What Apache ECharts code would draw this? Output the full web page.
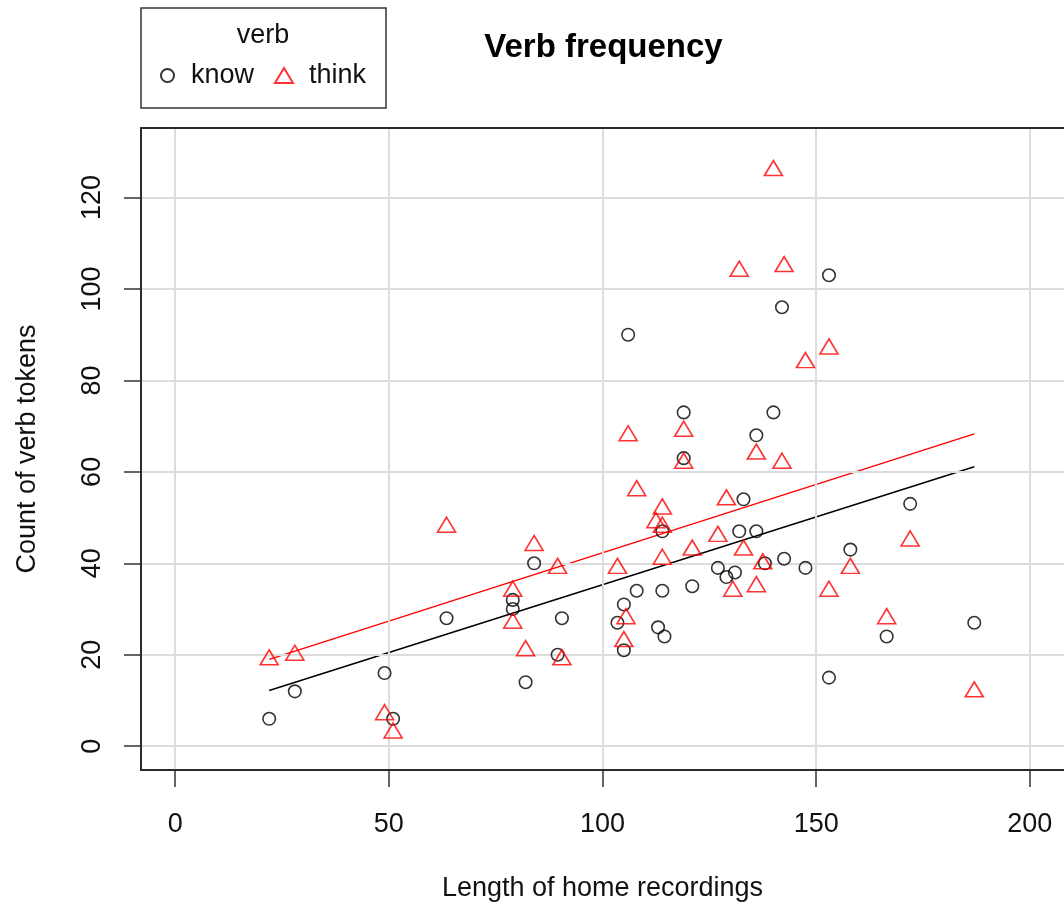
<!DOCTYPE html>
<html><head><meta charset="utf-8">
<script src="https://cdn.jsdelivr.net/npm/echarts@6/dist/echarts.min.js"></script>
<style>html,body{margin:0;padding:0;background:#fff}#c{width:1064px;height:911px}</style>
</head><body><div id="c"></div>
<script>
// ---- data ----
const knowX = [22,28,49,51,63.5,79,79,82,84,89.5,90.5,103.5,105,105,106,108,113,114,114,114.5,119,119,121,127,129,131,132,133,136,136,138,140,142,142.5,147.5,153,153,158,166.5,172,187];
const knowY = [6,12,16,6,28,32,30,14,40,20,28,27,31,21,90,34,26,47,34,24,73,63,35,39,37,38,47,54,68,47,40,73,96,41,39,103,15,43,24,53,27];
const thinkX = [22,28,49,51,63.5,79,79,82,84,89.5,90.5,103.5,105,105.5,106,108,112.5,114,114,114,119,119,121,127,129,130.5,132,133,136,136,137.5,140,142,142.5,147.5,153,153,158,166.5,172,187];
const thinkY = [19,20,7,3,48,34,27,21,44,39,19,39,23,28,68,56,49,52,48,41,69,62,43,46,54,34,104,43,64,35,40,126,62,105,84,87,34,39,28,45,12];
const knowFitX = [22,187];
const knowFitY = [12.2,61.1];
const thinkFitX = [22,187];
const thinkFitY = [19.0,68.3];
const xTicks = [0,50,100,150,200];
const yTicks = [0,20,40,60,80,100,120];
const seriesNames = ['know','think'];
const titleText = 'Verb frequency';
const legendTitle = 'verb';
const xName = 'Length of home recordings';
const yName = 'Count of verb tokens';

const FONT = '"Liberation Sans", Arial, Helvetica, sans-serif';
const zip = (a,b) => a.map((v,i) => [v,b[i]]);
const G = {left:141, top:128, width:925, height:642};
const AX = '#2b2b2b';

const chart = echarts.init(document.getElementById('c'), null, {renderer:'canvas'});
const option = {
  animation:false,
  backgroundColor:'#fff',
  textStyle:{fontFamily:FONT},
  grid:{left:G.left, top:G.top, width:G.width, height:G.height, show:false, containLabel:false},
  xAxis:{
    type:'value', min:-8, max:208,
    name:xName, nameLocation:'middle', nameGap:105,
    nameTextStyle:{fontSize:27, color:'#111', fontFamily:FONT},
    axisLine:{show:true, onZero:false, lineStyle:{color:AX, width:2}},
    axisTick:{show:true, inside:false, customValues:xTicks, length:17, lineStyle:{color:'#333', width:1.5}},
    axisLabel:{show:true, customValues:xTicks, fontSize:27, color:'#111', margin:41, fontFamily:FONT},
    splitLine:{show:false}
  },
  yAxis:{
    type:'value', min:-5.2, max:135.2,
    name:yName, nameLocation:'middle', nameGap:100, nameRotate:90,
    nameTextStyle:{fontSize:27, color:'#111', fontFamily:FONT},
    axisLine:{show:true, onZero:false, lineStyle:{color:AX, width:2}},
    axisTick:{show:true, inside:false, customValues:yTicks, length:17, lineStyle:{color:'#333', width:1.5}},
    axisLabel:{show:true, customValues:yTicks, rotate:90, fontSize:27, color:'#111', margin:35, fontFamily:FONT},
    splitLine:{show:false}
  },
  legend:[
    {data:[{name:seriesNames[0], icon:'circle'}], left:160, top:62, padding:0, itemWidth:13, itemHeight:13,
     selectedMode:false, textStyle:{fontSize:27, color:'#111', fontFamily:FONT, padding:[0,0,0,12]}},
    {data:[{name:seriesNames[1], icon:'triangle'}], left:274, top:62, padding:0, itemWidth:18, itemHeight:15,
     selectedMode:false, textStyle:{fontSize:27, color:'#111', fontFamily:FONT, padding:[0,0,0,11]}}
  ],
  graphic:[
    {type:'rect', z:100, silent:true, shape:{x:G.left, y:G.top, width:G.width, height:G.height},
     style:{fill:'none', stroke:AX, lineWidth:2}},
    {type:'rect', z:100, silent:true, shape:{x:141, y:8, width:245, height:100},
     style:{fill:'none', stroke:'#333', lineWidth:1.5}},
    {type:'text', z:100, silent:true, x:263, y:36,
     style:{text:legendTitle, font:'27px '+FONT, fill:'#111', align:'center', verticalAlign:'middle', textAlign:'center', textVerticalAlign:'middle'}},
    {type:'text', z:100, silent:true, x:603.5, y:48,
     style:{text:titleText, font:'bold 33px '+FONT, fill:'#000', align:'center', verticalAlign:'middle', textAlign:'center', textVerticalAlign:'middle'}}
  ],
  series:[
    {type:'scatter', name:'grid', data:[], z:1, silent:true,
     markLine:{silent:true, symbol:'none', animation:false, label:{show:false}, emphasis:{disabled:true},
       lineStyle:{color:'#dcdcdc', width:2, type:'solid'},
       data:[...xTicks.map(v=>({xAxis:v})), ...yTicks.map(v=>({yAxis:v}))]}},
    {type:'line', name:'knowFit', data:zip(knowFitX, knowFitY), symbol:'none', z:4, silent:true,
     lineStyle:{color:'#000', width:1.5}},
    {type:'line', name:'thinkFit', data:zip(thinkFitX, thinkFitY), symbol:'none', z:4, silent:true,
     lineStyle:{color:'#ff0000', width:1.5}},
    {type:'scatter', name:seriesNames[0], data:zip(knowX, knowY), symbol:'circle', symbolSize:12.5, z:5,
     itemStyle:{color:'transparent', borderColor:'#000', borderWidth:1.6}, emphasis:{disabled:true}},
    {type:'scatter', name:seriesNames[1], data:zip(thinkX, thinkY), symbol:'triangle', symbolSize:[18,15],
     symbolOffset:[0,-2], z:5,
     itemStyle:{color:'transparent', borderColor:'#ff0000', borderWidth:1.6}, emphasis:{disabled:true}}
  ]
};
chart.setOption(option);
</script>
</body></html>
